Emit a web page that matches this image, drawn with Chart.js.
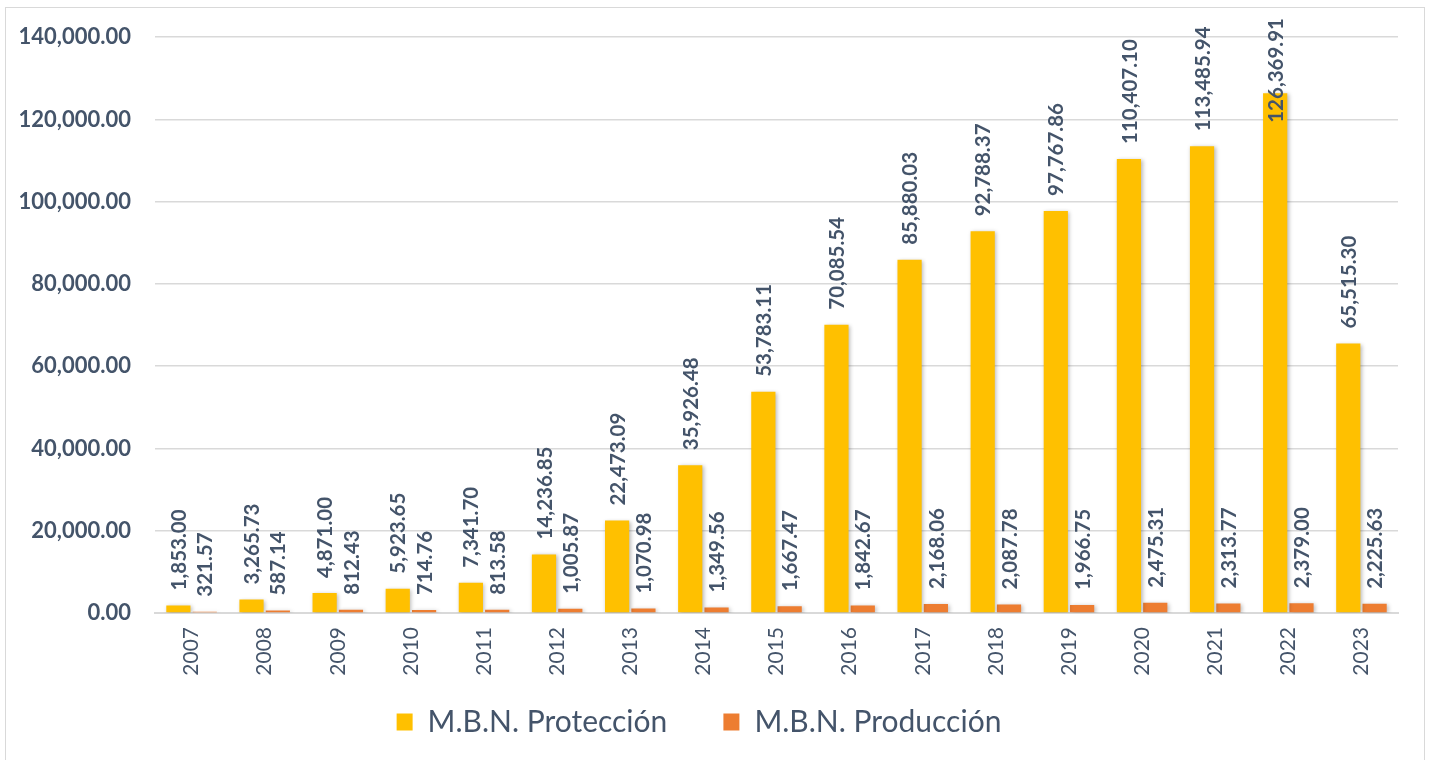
<!DOCTYPE html>
<html>
<head>
<meta charset="utf-8">
<script src="https://cdn.jsdelivr.net/npm/chart.js@4"></script>
<style>
  html, body { margin: 0; padding: 0; background: #fff; overflow: hidden; }
  #frame {
    position: absolute; left: 5px; top: 7px; width: 1420px; height: 760px;
    border: 1px solid #D9D9D9; box-sizing: border-box;
  }
  #wrap { position: absolute; left: 0; top: 0; width: 1435px; height: 760px; }
</style>
</head>
<body>
<div id="frame"></div>
<div id="wrap"><canvas id="mbnChart" width="1435" height="760"></canvas></div>
<script>
// years on the x axis
const years = ['2007', '2008', '2009', '2010', '2011', '2012', '2013', '2014', '2015',
  '2016', '2017', '2018', '2019', '2020', '2021', '2022', '2023'];

// M.B.N. Protección
const proteccion = [1853.00, 3265.73, 4871.00, 5923.65, 7341.70, 14236.85, 22473.09,
  35926.48, 53783.11, 70085.54, 85880.03, 92788.37, 97767.86, 110407.10, 113485.94,
  126369.91, 65515.30];

// M.B.N. Producción
const produccion = [321.57, 587.14, 812.43, 714.76, 813.58, 1005.87, 1070.98, 1349.56,
  1667.47, 1842.67, 2168.06, 2087.78, 1966.75, 2475.31, 2313.77, 2379.00, 2225.63];

const seriesNames = ['M.B.N. Protección', 'M.B.N. Producción'];

const textColor = '#44546A';
const fontFam = 'Lato, "Open Sans", sans-serif';

function fmt(v) {
  return v.toLocaleString('en-US', { minimumFractionDigits: 2, maximumFractionDigits: 2 });
}

// soft shadow behind bars, like the office chart
const barShadow = {
  id: 'barShadow',
  beforeDatasetsDraw(chart) {
    const ctx = chart.ctx;
    ctx.save();
    ctx.shadowColor = 'rgba(0,0,0,0.28)';
    ctx.shadowBlur = 4;
    ctx.shadowOffsetX = 1.5;
    ctx.shadowOffsetY = 1;
  },
  afterDatasetsDraw(chart) {
    chart.ctx.restore();
  }
};

// vertical value labels above each bar
const valueLabels = {
  id: 'valueLabels',
  afterDatasetsDraw(chart) {
    const ctx = chart.ctx;
    ctx.save();
    ctx.font = 'bold 20.5px ' + fontFam;
    ctx.fillStyle = textColor;
    ctx.textAlign = 'left';
    ctx.textBaseline = 'middle';
    chart.data.datasets.forEach((ds, i) => {
      const meta = chart.getDatasetMeta(i);
      meta.data.forEach((bar, j) => {
        const txt = fmt(ds.data[j]);
        const w = ctx.measureText(txt).width;
        let start = bar.y - 15;
        if (start - w < 2) start = 18 + w; // no room: push it down into the bar
        ctx.save();
        ctx.translate(bar.x, start);
        ctx.rotate(-Math.PI / 2);
        ctx.fillText(txt, 0, 1);
        ctx.restore();
      });
    });
    ctx.restore();
  }
};

const ctx = document.getElementById('mbnChart').getContext('2d');
const mbnChart = new Chart(ctx, {
  type: 'bar',
  data: {
    labels: years,
    datasets: [{
      label: seriesNames[0],
      data: proteccion,
      backgroundColor: '#FFC000',
      categoryPercentage: 0.72,
      barPercentage: 0.92
    }, {
      label: seriesNames[1],
      data: produccion,
      backgroundColor: '#ED7D31',
      categoryPercentage: 0.72,
      barPercentage: 0.92
    }]
  },
  options: {
    responsive: false,
    animation: false,
    layout: { padding: { left: 0, right: 37, top: 28, bottom: 13 } },
    scales: {
      x: {
        grid: { display: false, drawTicks: false },
        border: { color: '#D9D9D9', width: 2 },
        afterFit: (s) => { s.height = 84; },
        ticks: {
          color: textColor,
          font: { family: fontFam, size: 21 },
          maxRotation: 90,
          minRotation: 90,
          padding: 14
        }
      },
      y: {
        min: 0,
        max: 140000,
        afterFit: (s) => { s.width = 155; },
        grid: { color: '#D9D9D9', lineWidth: 1.5, drawTicks: false },
        border: { display: false },
        ticks: {
          stepSize: 20000,
          color: textColor,
          font: { family: fontFam, size: 22, weight: 'bold' },
          padding: 24,
          callback: (v) => fmt(v)
        }
      }
    },
    plugins: {
      legend: {
        position: 'bottom',
        labels: {
          color: textColor,
          font: { family: fontFam, size: 30 },
          boxWidth: 16,
          boxHeight: 17,
          padding: 10,
          generateLabels: (chart) => {
            const items = Chart.defaults.plugins.legend.labels.generateLabels(chart);
            items.forEach((it, k) => {
              if (k < items.length - 1) it.text = it.text + '      ';
            });
            return items;
          }
        }
      },
      tooltip: { enabled: false }
    }
  },
  plugins: [barShadow, valueLabels]
});
</script>
</body>
</html>
